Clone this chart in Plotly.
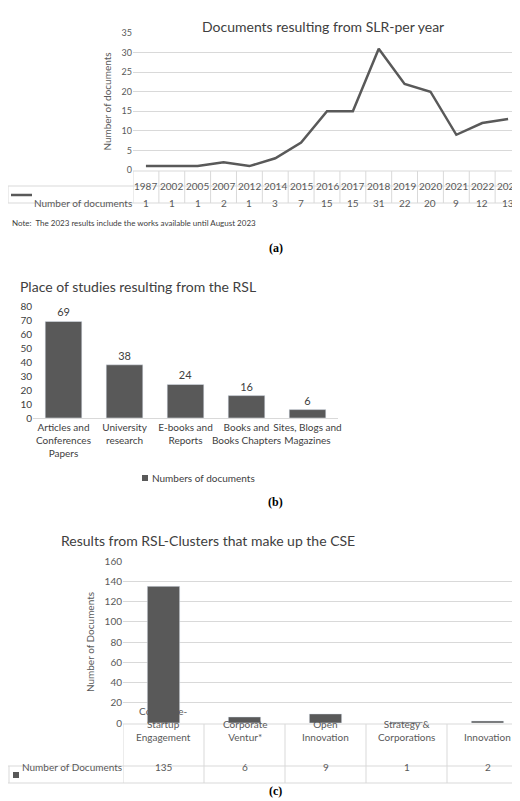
import plotly.graph_objects as go

# data
years = ["1987", "2002", "2005", "2007", "2012", "2014", "2015", "2016",
         "2017", "2018", "2019", "2020", "2021", "2022", "2023"]
docs_per_year = [1, 1, 1, 2, 1, 3, 7, 15, 15, 31, 22, 20, 9, 12, 13]

places = ["Articles and<br>Conferences<br>Papers", "University<br>research",
          "E-books and<br>Reports", "Books and<br>Books Chapters",
          "Sites, Blogs and<br>Magazines"]
place_docs = [69, 38, 24, 16, 6]

clusters = ["Corporate-<br>Startup<br>Engagement", "Corporate<br>Ventur*",
            "Open<br>Innovation", "Strategy &<br>Corporations", "Innovation"]
cluster_docs = [135, 6, 9, 1, 2]

W, H = 520, 801
FONT = "Lato"
TXT = "#595959"
GRID = "#d9d9d9"
DARK = "#595959"


def fy(py):
    return 1 - py / H


def fx(px):
    return px / W


fig = go.Figure()

# (a) line chart
fig.add_scatter(x=list(range(len(years))), y=docs_per_year, mode="lines",
                line=dict(color=DARK, width=2.5), xaxis="x", yaxis="y",
                showlegend=False)
# (b) bars
fig.add_bar(x=list(range(len(places))), y=place_docs, marker_color=DARK,
            width=0.6, text=place_docs, textposition="outside",
            textfont=dict(size=11, color="#404040"), cliponaxis=False,
            xaxis="x2", yaxis="y2", showlegend=False)
# (c) bars
fig.add_bar(x=list(range(len(clusters))), y=cluster_docs, marker_color=DARK,
            width=0.4, xaxis="x3", yaxis="y3", showlegend=False)

ann = []
shapes = []

# ---- panel a layout
ax_a = dict(domain=[fx(125), fx(513)], range=[-0.5, len(years) - 0.5],
            showticklabels=False, showgrid=False, zeroline=False, automargin=False)
ay_a = dict(domain=[fy(162), fy(25)], range=[0, 35], dtick=5, automargin=False,
            gridcolor=GRID, tickfont=dict(size=9, color=TXT), zeroline=False,
            title=dict(text="Number of documents", font=dict(size=10, color=TXT),
                       standoff=8))
for i, (yr, v) in enumerate(zip(years, docs_per_year)):
    ann.append(dict(x=i, y=fy(170), xref="x", yref="paper", text=yr,
                    showarrow=False, font=dict(size=10, color=TXT)))
    ann.append(dict(x=i, y=fy(187), xref="x", yref="paper", text=str(v),
                    showarrow=False, font=dict(size=10, color=TXT)))
for i in range(len(years) + 1):
    shapes.append(dict(type="line", xref="x", yref="paper", x0=i - 0.5, x1=i - 0.5,
                       y0=fy(195), y1=fy(163), line=dict(color=GRID, width=1)))
for py, x0 in [(163, fx(125)), (178, 0), (195, 0)]:
    shapes.append(dict(type="line", xref="paper", yref="paper", x0=x0, x1=fx(513),
                       y0=fy(py), y1=fy(py), line=dict(color=GRID, width=1)))
shapes.append(dict(type="line", xref="paper", yref="paper", x0=0, x1=0,
                   y0=fy(195), y1=fy(178), line=dict(color=GRID, width=1)))
shapes.append(dict(type="line", xref="paper", yref="paper", x0=fx(3), x1=fx(24),
                   y0=fy(187), y1=fy(187), line=dict(color=DARK, width=2.5)))
ann += [
    dict(x=fx(24), y=fy(187), xref="paper", yref="paper", xanchor="left",
         text="Number of documents", showarrow=False, font=dict(size=10, color=TXT)),
    dict(x=fx(315), y=fy(8), xref="paper", yref="paper",
         text="Documents resulting from SLR-per year", showarrow=False,
         font=dict(size=14, color="#404040")),
    dict(x=fx(2), y=fy(208), xref="paper", yref="paper", xanchor="left",
         text="Note:  The 2023 results include the works available until August 2023",
         showarrow=False, font=dict(size=8, color="#404040")),
    dict(x=0.515, y=fy(231), xref="paper", yref="paper", text="<b>(a)</b>",
         showarrow=False, font=dict(size=12, family="Liberation Serif", color="black")),
]

# ---- panel b layout
ax_b = dict(domain=[fx(25), fx(330)], range=[-0.5, len(places) - 0.5],
            tickvals=list(range(len(places))), ticktext=places, tickangle=0,
            tickfont=dict(size=10, color="#404040"), showgrid=False,
            showline=True, linecolor=GRID, ticks="", automargin=False)
ay_b = dict(domain=[fy(410), fy(298)], range=[0, 80], dtick=10, automargin=False,
            showgrid=False, zeroline=False, tickfont=dict(size=10, color="#404040"))
ann += [
    dict(x=fx(10), y=fy(279), xref="paper", yref="paper", xanchor="left",
         text="Place of studies resulting from the RSL", showarrow=False,
         font=dict(size=14, color="#404040")),
    dict(x=fx(142), y=fy(470), xref="paper", yref="paper", xanchor="left",
         text="Numbers of documents", showarrow=False,
         font=dict(size=10, color="#404040")),
    dict(x=0.515, y=fy(494), xref="paper", yref="paper", text="<b>(b)</b>",
         showarrow=False, font=dict(size=12, family="Liberation Serif", color="black")),
]
shapes.append(dict(type="rect", xref="paper", yref="paper", x0=fx(134), x1=fx(140),
                   y0=fy(473), y1=fy(467), fillcolor=DARK, line=dict(width=0)))

# ---- panel c layout
ax_c = dict(domain=[fx(115), 1], range=[-0.5, len(clusters) - 0.5], automargin=False,
            showticklabels=False, showgrid=False, zeroline=False)
ay_c = dict(domain=[fy(715), fy(553)], range=[0, 160], dtick=20, automargin=False,
            gridcolor=GRID, zeroline=False, tickfont=dict(size=10, color=TXT),
            title=dict(text="Number of Documents", font=dict(size=10, color=TXT),
                       standoff=8))
for i, (c, v) in enumerate(zip(clusters, cluster_docs)):
    ann.append(dict(x=i, y=fy(737), xref="x3", yref="paper", text=c,
                    showarrow=False, font=dict(size=10, color=TXT)))
    ann.append(dict(x=i, y=fy(767), xref="x3", yref="paper", text=str(v),
                    showarrow=False, font=dict(size=10, color=TXT)))
for i in range(len(clusters) + 1):
    shapes.append(dict(type="line", xref="x3", yref="paper", x0=i - 0.5, x1=i - 0.5,
                       y0=fy(775), y1=fy(716), line=dict(color=GRID, width=1)))
for py, x0 in [(716, fx(115)), (758, 0), (775, 0)]:
    shapes.append(dict(type="line", xref="paper", yref="paper", x0=x0, x1=1,
                       y0=fy(py), y1=fy(py), line=dict(color=GRID, width=1)))
shapes.append(dict(type="line", xref="paper", yref="paper", x0=fx(1), x1=fx(1),
                   y0=fy(775), y1=fy(758), line=dict(color=GRID, width=1)))
shapes.append(dict(type="rect", xref="paper", yref="paper", x0=fx(5), x1=fx(11),
                   y0=fy(770), y1=fy(764), fillcolor=DARK, line=dict(width=0)))
ann += [
    dict(x=fx(12), y=fy(767), xref="paper", yref="paper", xanchor="left",
         text="Number of Documents", showarrow=False, font=dict(size=10, color=TXT)),
    dict(x=fx(349), y=fy(532), xref="paper", yref="paper",
         text="Results from RSL-Clusters that make up the CSE", showarrow=False,
         font=dict(size=14, color="#404040")),
    dict(x=0.515, y=fy(792), xref="paper", yref="paper", text="<b>(c)</b>",
         showarrow=False, font=dict(size=12, family="Liberation Serif", color="black")),
]

fig.update_layout(
    width=W, height=H, margin=dict(l=0, r=0, t=0, b=0),
    paper_bgcolor="white", plot_bgcolor="white",
    font=dict(family=FONT, color=TXT),
    xaxis=ax_a, yaxis=ay_a,
    xaxis2=dict(ax_b, anchor="y2"), yaxis2=dict(ay_b, anchor="x2"),
    xaxis3=dict(ax_c, anchor="y3"), yaxis3=dict(ay_c, anchor="x3"),
    annotations=ann, shapes=shapes, bargap=0.4,
)

fig.write_html("out.html")
